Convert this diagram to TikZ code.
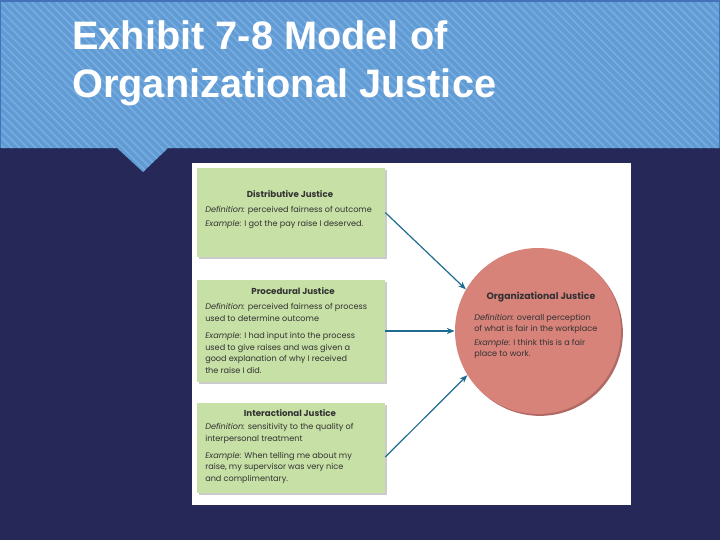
\documentclass[tikz,border=0pt]{standalone}
\usepackage{fontspec}
\setmainfont{Liberation Sans}
\newfontfamily\boxfont{Poppins}
\usetikzlibrary{patterns.meta,arrows.meta,calc,shadows}
\definecolor{navy}{RGB}{38,41,87}
\definecolor{hdrblue}{RGB}{96,155,212}
\definecolor{hdrstripe}{RGB}{118,172,224}
\definecolor{hdrline}{RGB}{68,114,186}
\definecolor{boxgreen}{RGB}{198,224,165}
\definecolor{circred}{RGB}{215,131,122}
\definecolor{circrim}{RGB}{150,55,50}
\definecolor{arrowblue}{RGB}{32,108,145}
\definecolor{txt}{RGB}{50,50,50}
\tikzset{
  greenbox/.style={fill=boxgreen, draw=none, inner sep=0, minimum width=141pt,
    drop shadow={shadow xshift=1.6pt, shadow yshift=-1.6pt, fill=black!45, opacity=.45}},
  justcirc/.style={circle, fill=circred, draw=none, inner sep=0, minimum size=124.5pt,
    drop shadow={shadow xshift=1.4pt, shadow yshift=-1.4pt, fill=circrim, opacity=.75}},
  conn/.style={draw=arrowblue, line width=0.9pt, -{Stealth[length=6pt,width=4.6pt]}},
  hd/.style={font=\boxfont\bfseries\fontsize{6.5}{7}\selectfont, text=txt, inner sep=0, anchor=base},
  bd/.style={font=\boxfont\fontsize{6.1}{8.6}\selectfont, text=txt, align=left, anchor=base west, inner sep=0},
  ttl/.style={font=\bfseries\fontsize{29.8}{35.3}\selectfont, text=white, align=left, anchor=base west, inner sep=0}
}
\begin{document}
\begin{tikzpicture}[x=0.75pt,y=-0.75pt]
\useasboundingbox (0,0) rectangle (720,540);
\fill[navy] (0,0) rectangle (720,540);
% header
\fill[hdrblue] (0,0) -- (720,0) -- (720,148) -- (168,148) -- (143,172) -- (117,148) -- (0,148) -- cycle;
\fill[pattern={Lines[angle=-45,distance=4.2pt,line width=1.3pt]}, pattern color=hdrstripe]
  (0,0) -- (720,0) -- (720,148) -- (168,148) -- (143,172) -- (117,148) -- (0,148) -- cycle;
\draw[hdrline, line width=1.2pt] (0,148) -- (0,0.8) -- (720,0.8) -- (720,148);
\node[ttl] (title) at (72,97) {Exhibit 7-8 Model of\\Organizational Justice};
% white panel
\fill[white] (192,163) rectangle (631,505);
% boxes
\node[greenbox, minimum height=66.75pt] (b1) at (291,212.5) {};
\node[greenbox, minimum height=76.5pt] (b2) at (291,331) {};
\node[greenbox, minimum height=67.5pt] (b3) at (291,448) {};
\node[justcirc] (circ) at (538,331) {};
% box texts
\node[hd] (t1) at (290,197) {Distributive Justice};
\node[bd] (d1) at (205,226) {\textit{Definition:} perceived fairness of outcome\\[1.3pt]
\textit{Example:} I got the pay raise I deserved.};
\node[hd] (t2) at (293,294) {Procedural Justice};
\node[bd] (d2) at (205,373) {\textit{Definition:} perceived fairness of process\\used to determine outcome\\[4.6pt]
\textit{Example:} I had input into the process\\used to give raises and was given a\\good explanation of why I received\\the raise I did.};
\node[hd] (t3) at (290,416) {Interactional Justice};
\node[bd] (d3) at (205,481) {\textit{Definition:} sensitivity to the quality of\\interpersonal treatment\\[4.1pt]
\textit{Example:} When telling me about my\\raise, my supervisor was very nice\\and complimentary.};
\node[hd, font=\boxfont\bfseries\fontsize{7}{8}\selectfont] (t4) at (541,299) {Organizational Justice};
\node[bd, font=\boxfont\fontsize{6.1}{7.9}\selectfont] (d4) at (474,356) {\textit{Definition:} overall perception\\of what is fair in the workplace\\[2.6pt]
\textit{Example:} I think this is a fair\\place to work.};
% connectors
\draw[conn] (b1.east) -- (circ.150);
\draw[conn] (b2.east) -- (circ.west);
\draw[conn] ($(b3.east)+(0,9)$) -- (circ.212);
\end{tikzpicture}
\end{document}
